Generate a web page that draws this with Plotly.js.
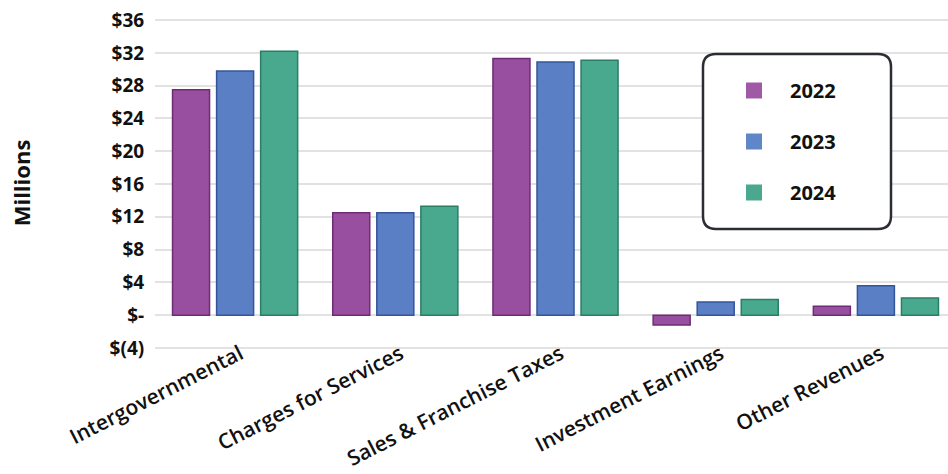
<!DOCTYPE html>
<html>
<head>
<meta charset="utf-8">
<script src="https://cdn.plot.ly/plotly-3.0.1.min.js"></script>
<style>
  html, body { margin: 0; padding: 0; background: #ffffff; }
  #chart { width: 948px; height: 474px; }
</style>
</head>
<body>
<div id="chart"></div>
<script>
// ---- data ----
const categories = ["Intergovernmental", "Charges for Services", "Sales & Franchise Taxes", "Investment Earnings", "Other Revenues"];
const seriesNames = ["2022", "2023", "2024"];
const values2022 = [27.5, 12.5, 31.3, -1.2, 1.1];
const values2023 = [29.8, 12.5, 30.9, 1.6, 3.6];
const values2024 = [32.2, 13.3, 31.1, 1.9, 2.1];
const tickValues = [-4, 0, 4, 8, 12, 16, 20, 24, 28, 32, 36];
const tickLabels = ["$(4)", "$-", "$4", "$8", "$12", "$16", "$20", "$24", "$28", "$32", "$36"];

// ---- styling ----
const fillColors = ["#984f9f", "#5a7fc4", "#48a98e"];
const edgeColors = ["#6e2c74", "#34559a", "#2b7d66"];
const legendColors = ["#a05aa5", "#5f86c8", "#4aa88f"];
const allValues = [values2022, values2023, values2024];

const traces = [];
allValues.forEach((vals, i) => {
  traces.push({
    type: "bar",
    x: categories,
    y: vals,
    name: seriesNames[i],
    showlegend: false,
    marker: { color: fillColors[i], line: { color: edgeColors[i], width: 1.5 } },
    hoverinfo: "x+y+name"
  });
});
// legend entries (larger swatches)
seriesNames.forEach((nm, i) => {
  traces.push({
    type: "scatter",
    mode: "markers",
    x: [null],
    y: [null],
    name: nm,
    legendgroup: "g" + i,
    showlegend: true,
    marker: { symbol: "square", size: 20, color: legendColors[i] }
  });
});

// rounded rectangle for legend frame, in paper coords
const L = 155, R = 948, T = 16, B = 350;
const W = R - L, H = B - T;
function px(x) { return (x - L) / W; }
function py(y) { return (B - y) / H; }
const bx0 = 703, bx1 = 891, by0 = 54, by1 = 229, r = 13;
const pathStr =
  "M" + px(bx0 + r) + "," + py(by0) +
  " L" + px(bx1 - r) + "," + py(by0) +
  " Q" + px(bx1) + "," + py(by0) + " " + px(bx1) + "," + py(by0 + r) +
  " L" + px(bx1) + "," + py(by1 - r) +
  " Q" + px(bx1) + "," + py(by1) + " " + px(bx1 - r) + "," + py(by1) +
  " L" + px(bx0 + r) + "," + py(by1) +
  " Q" + px(bx0) + "," + py(by1) + " " + px(bx0) + "," + py(by1 - r) +
  " L" + px(bx0) + "," + py(by0 + r) +
  " Q" + px(bx0) + "," + py(by0) + " " + px(bx0 + r) + "," + py(by0) + " Z";

const layout = {
  width: 948,
  height: 474,
  margin: { l: L, r: 0, t: T, b: 474 - B, pad: 0 },
  paper_bgcolor: "#ffffff",
  plot_bgcolor: "#ffffff",
  font: { family: "'Open Sans', 'Noto Sans', sans-serif", color: "#111111" },
  barmode: "group",
  bargap: 0.175,
  bargroupgap: 0.16,
  xaxis: {
    type: "category",
    range: [-0.5, 4.45],
    tickangle: -27,
    showgrid: false,
    zeroline: false,
    showline: false,
    ticks: "",
    tickfont: { size: 21, weight: 600, color: "#111111" },
    ticklabelstandoff: -13,
    ticklabelshift: 5,
    automargin: false,
    fixedrange: true
  },
  yaxis: {
    range: [-4.25, 36.5],
    tickvals: tickValues,
    ticktext: tickLabels,
    tickfont: { size: 19, weight: 700, color: "#111111" },
    showgrid: true,
    gridcolor: "#e2e2e2",
    gridwidth: 2,
    zeroline: true,
    zerolinecolor: "#e2e2e2",
    zerolinewidth: 2,
    showline: false,
    ticks: "outside",
    ticklen: 6,
    tickcolor: "rgba(0,0,0,0)",
    automargin: false,
    title: { text: "Millions", font: { size: 22, weight: 700, color: "#111111" }, standoff: 72 },
    fixedrange: true
  },
  legend: {
    x: px(718),
    y: py(71),
    xanchor: "left",
    yanchor: "top",
    bgcolor: "rgba(0,0,0,0)",
    borderwidth: 0,
    font: { size: 20, weight: 700, color: "#111111" },
    traceorder: "grouped",
    tracegroupgap: 22,
    itemwidth: 62
  },
  shapes: [{
    type: "path",
    xref: "paper",
    yref: "paper",
    path: pathStr,
    line: { color: "#2a2d33", width: 2.5 },
    fillcolor: "#ffffff",
    layer: "above"
  }],
  showlegend: true
};

Plotly.newPlot("chart", traces, layout, { displayModeBar: false, staticPlot: true });
</script>
</body>
</html>
